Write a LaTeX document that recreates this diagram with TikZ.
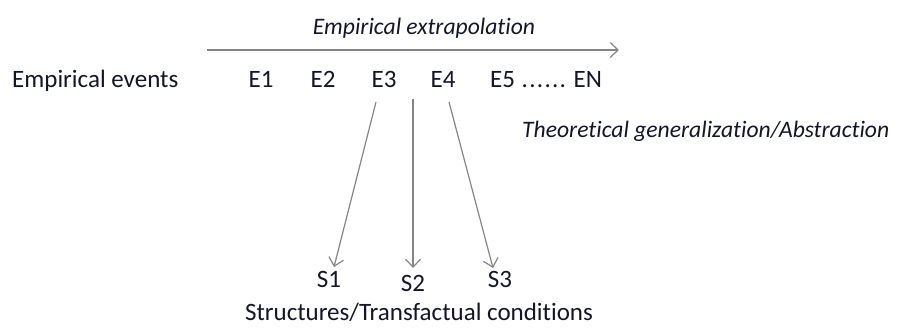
\documentclass[tikz,border=0pt]{standalone}
\usepackage{fontspec}
\setmainfont{Carlito}[Ligatures=NoCommon]
\usetikzlibrary{arrows.meta}
\definecolor{txt}{HTML}{14142E}
\definecolor{arr}{HTML}{858585}
\tikzset{
  lbl/.style={text=txt, font=\fontsize{25}{27}\selectfont, inner sep=0pt, anchor=base},
  ilbl/.style={lbl, font=\fontsize{23.6}{26}\selectfont\itshape},
  conn/.style={draw=arr, line width=1.2pt, -{Straight Barb[length=8pt,width=15pt,line width=1.2pt]}}
}
\begin{document}
\begin{tikzpicture}[x=1pt,y=-1pt]
\useasboundingbox (0,0) rectangle (897,328);
\node[ilbl] (ee) at (424,35) {Empirical extrapolation};
\coordinate (a0) at (207,50);
\coordinate (a1) at (619,50);
\draw[conn] (a0) -- (a1);
\node[lbl, anchor=base west] (ev) at (12,88) {Empirical events};
\node[lbl] (e1) at (261,88) {E1};
\node[lbl] (e2) at (323,88) {E2};
\node[lbl] (e3) at (384,88) {E3};
\node[lbl] (e4) at (443,88) {E4};
\node[lbl, anchor=base west] (e5) at (490,88) {E5 \kern1pt.\kern1.3pt.\kern1.3pt.\kern1.3pt.\kern1.3pt.\kern1.3pt.\kern2pt\ EN};
\node[ilbl, anchor=base west] (tg) at (522,138) {Theoretical generalization/Abstraction};
\node[lbl] (s1) at (329,288) {S1};
\node[lbl] (s2) at (413,292) {S2};
\node[lbl] (s3) at (500,288) {S3};
\node[lbl] (st) at (419,321) {Structures/Transfactual conditions};
\coordinate (t1) at (376,102);
\coordinate (t2) at (413,99);
\coordinate (t3) at (449,102);
\coordinate (h1) at (334,267);
\coordinate (h2) at (413,268);
\coordinate (h3) at (493,268);
\draw[conn] (t1) -- (h1);
\draw[conn] (t2) -- (h2);
\draw[conn] (t3) -- (h3);
\end{tikzpicture}
\end{document}
